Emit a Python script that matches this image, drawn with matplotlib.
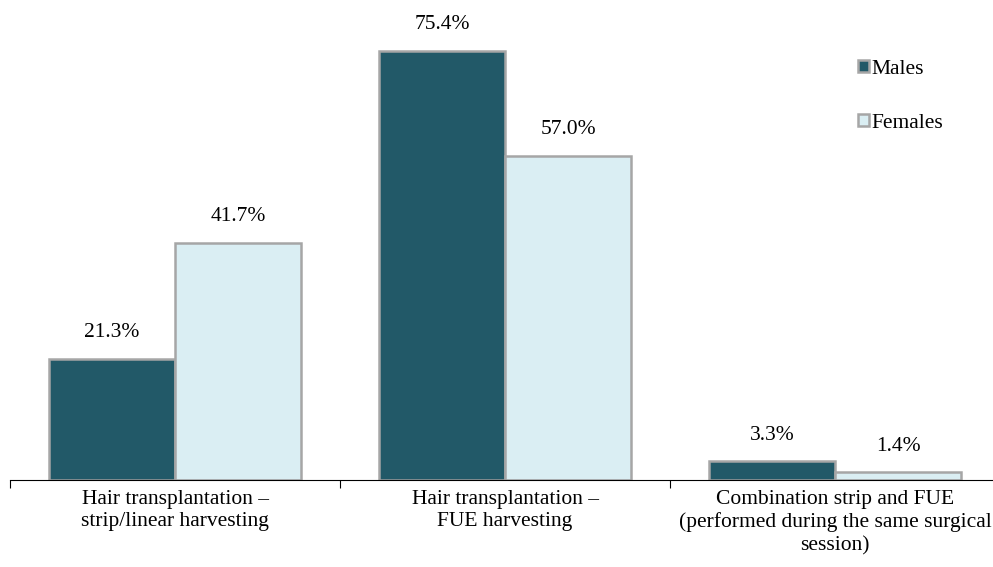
import matplotlib
matplotlib.use("Agg")
import matplotlib.pyplot as plt
import numpy as np

categories = ["Hair transplantation \u2013\nstrip/linear harvesting",
              "Hair transplantation \u2013\nFUE harvesting",
              "Combination strip and FUE\n(performed during the same surgical\nsession)"]
males = [21.3, 75.4, 3.3]
females = [41.7, 57.0, 1.4]

plt.rcParams['font.family'] = ['Liberation Serif', 'DejaVu Serif']
FS = 15.5

fig = plt.figure(figsize=(9.93, 5.67), dpi=100)
ax = fig.add_axes([10/993, 1-480/567, 990/993, 480/567])

x = np.arange(len(categories))
w = 126/330
c_m = '#225968'
c_f = '#DAEEF3'
edge = '#A6A6A6'
ax.bar(x - w/2, males, w, color=c_m, edgecolor=edge, linewidth=1.8, label='Males', zorder=2)
ax.bar(x + w/2, females, w, color=c_f, edgecolor=edge, linewidth=1.8, label='Females', zorder=2)

for xi, v in zip(x - w/2, males):
    ax.text(xi, v + 2.9, f"{v:.1f}%", ha='center', va='bottom', fontsize=FS)
for xi, v in zip(x + w/2, females):
    ax.text(xi, v + 2.9, f"{v:.1f}%", ha='center', va='bottom', fontsize=FS)

ax.set_xlim(-0.5, 2.5)
ax.set_ylim(0, 480/5.69)
for s in ['top', 'right', 'left']:
    ax.spines[s].set_visible(False)
ax.spines['bottom'].set_linewidth(0.8)
ax.set_yticks([])
ax.set_xticks(x)
ax.set_xticklabels(categories, fontsize=FS, linespacing=1.25)
ax.tick_params(axis='x', which='major', length=0, pad=7)
ax.set_xticks([-0.5, 0.5, 1.5, 2.5], minor=True)
ax.tick_params(axis='x', which='minor', length=6, width=0.8)

ax.legend(loc='upper left', bbox_to_anchor=(847/993, 1-49/567), bbox_transform=fig.transFigure,
          frameon=False, fontsize=FS, handlelength=0.5, handleheight=0.5,
          handletextpad=0.12, labelspacing=1.62, borderpad=0)

fig.savefig("out.png", dpi=100)
